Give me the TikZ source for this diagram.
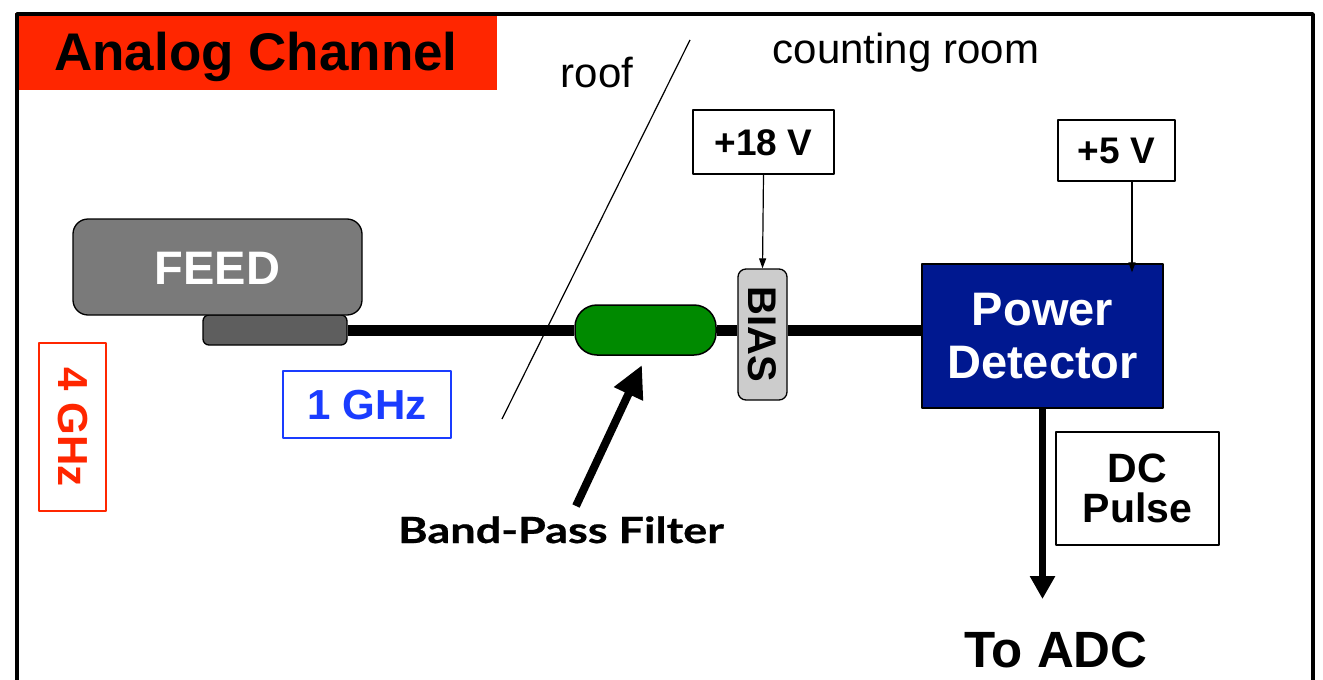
\documentclass[tikz,border=0pt]{standalone}
\usepackage{fontspec}
\setmainfont{Liberation Sans}
\newfontfamily\gillfont[FakeStretch=1.25, FakeBold=0.6]{Lato}
\usetikzlibrary{arrows.meta}
\definecolor{hotred}{HTML}{FF2600}
\definecolor{linkblue}{HTML}{1A3CFF}
\definecolor{detblue}{HTML}{001890}
\definecolor{bpfgreen}{HTML}{008A00}
\newcommand{\pts}[1]{\fontsize{#1}{#1}\selectfont}
\begin{document}
\begin{tikzpicture}[x=1pt, y=-1pt, line join=round, >={Triangle[length=10pt,width=7pt]}]
	\tikzset{box/.style={draw, line width=1.3pt, inner sep=0pt, font=\pts{37}\bfseries},
		freq/.style={draw=#1, text=#1, line width=2pt, inner sep=0pt, font=\pts{42}\bfseries},
		cable/.style={line width=11pt}}
	\useasboundingbox (0,0) rectangle (1323,680);
	% title bar and frame
	\node[fill=hotred, inner sep=0pt, minimum width=482pt, minimum height=77pt, text height=38pt, text depth=0pt, font=\pts{53}\bfseries] (title) at (256,51) {Analog Channel};
	\draw[line width=3.5pt] (17,680) -- (17,14) -- (1313,14) -- (1313,680);
	% roof / counting room divider
	\draw[line width=1.2pt] (690,40) -- (502,419);
	\node[anchor=base, font=\pts{42}] (roof) at (597,87) {roof};
	\node[anchor=base, font=\pts{42}] (room) at (906,63) {counting room};
	% feed horn
	\node[draw, line width=1.3pt, fill=black!63, rounded corners=6pt, minimum width=144pt, minimum height=30pt] (jack) at (275,330) {};
	\node[draw, line width=1.3pt, fill=black!52, rounded corners=15pt, minimum width=289pt, minimum height=96pt, text=white, text height=34pt, text depth=0pt, font=\pts{47}\bfseries] (feed) at (217.5,267) {FEED};
	\node[freq=hotred, minimum width=67pt, minimum height=168pt] (lo) at (72.5,427) {\rotatebox{-90}{4 GHz}};
	\node[freq=linkblue, minimum width=168pt, minimum height=67pt, text height=30pt, text depth=0pt] (if) at (367,404.5) {1 GHz};
	% filter, bias tee, detector
	\node[draw, line width=1.5pt, fill=bpfgreen, rounded corners=22pt, minimum width=141pt, minimum height=50pt] (filter) at (645.5,330) {};
	\node[draw, line width=1.3pt, fill=black!20, rounded corners=8pt, minimum width=49pt, minimum height=131pt, inner sep=0pt, font=\pts{40}\bfseries] (bias) at (762.5,334.5) {\rotatebox{-90}{BIAS}};
	\node[draw, line width=1.3pt, fill=detblue, minimum width=241pt, minimum height=144pt, text=white, align=center, font=\fontsize{47}{53}\selectfont\bfseries] (det) at (1042.5,336) {Power\\Detector};
	\node[box, minimum width=141pt, minimum height=64pt, text height=26.5pt, text depth=0pt] (v18) at (763.5,142) {+18 V};
	\node[box, minimum width=117pt, minimum height=61pt, text height=26.5pt, text depth=0pt] (v5) at (1116.5,150.5) {+5 V};
	\node[box, minimum width=163pt, minimum height=113pt, align=center, font=\fontsize{41}{40}\selectfont\bfseries] (pulse) at (1137.5,488.5) {DC\\Pulse};
	% signal path
	\draw[cable] (jack.east) -- (filter.west);
	\draw[cable] (filter.east) -- (filter.east -| bias.west);
	\draw[cable] (filter.east -| bias.east) -- (filter.east -| det.west);
	\draw[->, line width=1.2pt] (v18.south) -- (bias.north);
	\draw[->, line width=1.2pt, shorten >=-9pt] ([xshift=15.5pt]v5.south) -- ([xshift=15.5pt]v5.south |- det.north);
	% output
	\coordinate (adc) at (1042.5,599);
	\draw[line width=7pt, -{Triangle[length=23pt,width=24pt]}] (det.south) -- (adc);
	\node[anchor=base, font=\pts{51}\bfseries] (toadc) at (1056,667) {To ADC};
	% filter label
	\node[anchor=base, font=\gillfont\pts{36}\bfseries] (bpf) at (561,543) {Band-Pass Filter};
	\coordinate (bpftail) at (576,506);
	\coordinate (bpftip) at (642,365);
	\draw[line width=8pt, -{Triangle[length=32pt,width=30pt]}] (bpftail) -- (bpftip);
\end{tikzpicture}
\end{document}
